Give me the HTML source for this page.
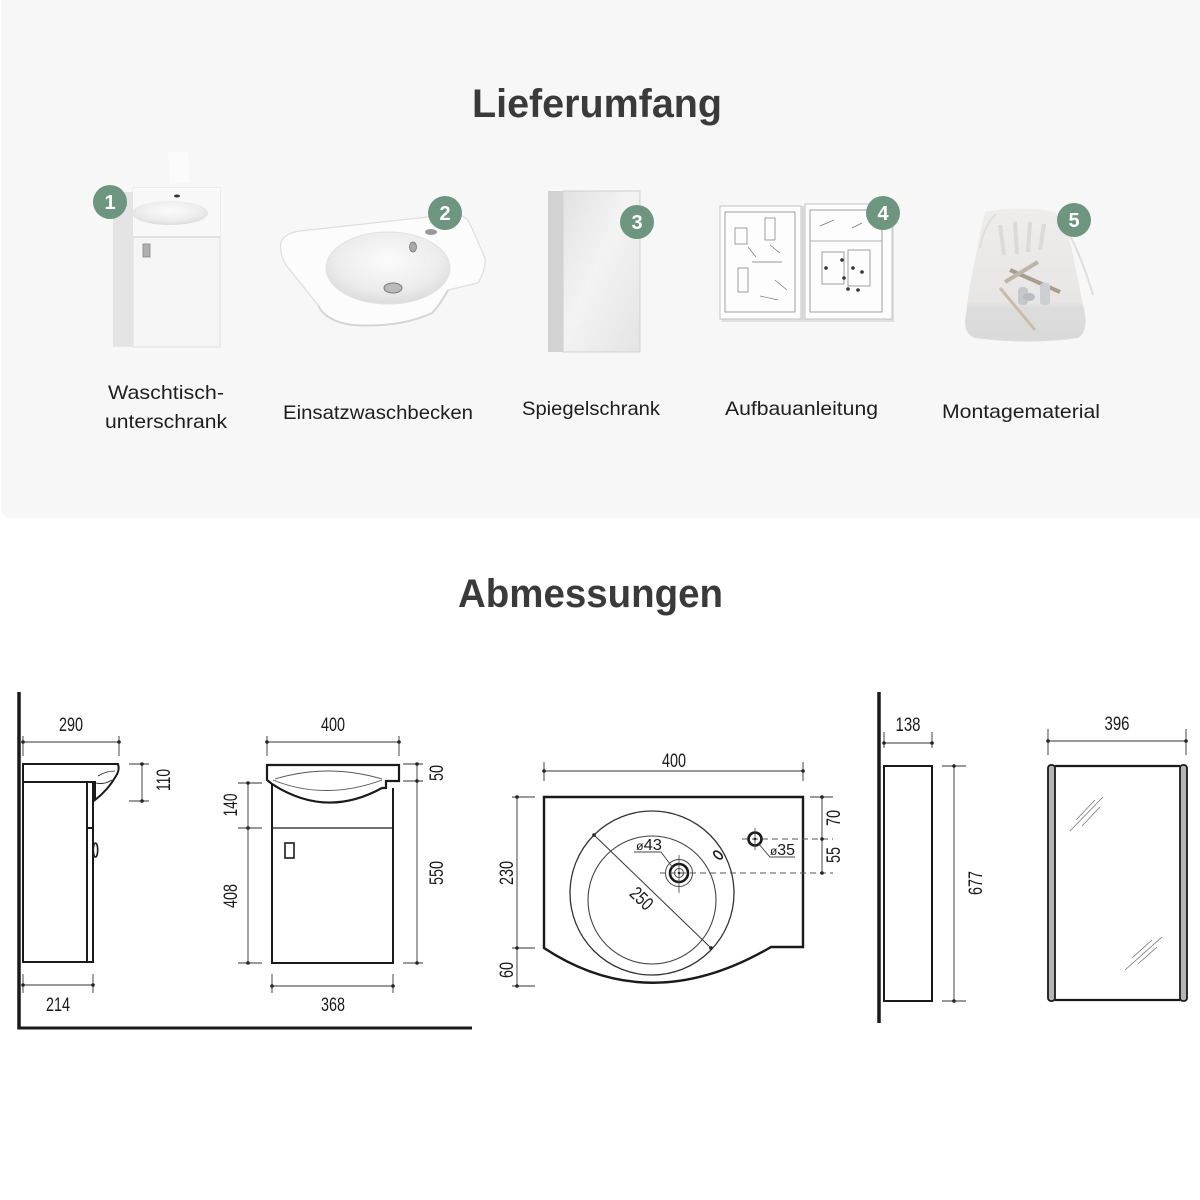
<!DOCTYPE html>
<html><head><meta charset="utf-8"><style>
html,body{margin:0;padding:0;background:#fff;}
svg{display:block;}
</style></head><body>
<svg width="1200" height="1200" viewBox="0 0 1200 1200" xmlns="http://www.w3.org/2000/svg">
<defs>
<linearGradient id="mirr" x1="0" y1="0" x2="1" y2="1">
<stop offset="0" stop-color="#e2e2e2"/><stop offset="0.45" stop-color="#f3f3f3"/><stop offset="1" stop-color="#e4e4e4"/></linearGradient>
<radialGradient id="bowl" cx="0.5" cy="0.4" r="0.6">
<stop offset="0" stop-color="#fbfbfb"/><stop offset="0.7" stop-color="#ececec"/><stop offset="1" stop-color="#dcdcdc"/></radialGradient>
<linearGradient id="bag" x1="0" y1="0" x2="0" y2="1">
<stop offset="0" stop-color="#eeedeb"/><stop offset="0.7" stop-color="#e8e6e4"/><stop offset="0.75" stop-color="#dcdcdc"/><stop offset="1" stop-color="#dadada"/></linearGradient>
</defs>
<rect x="0" y="0" width="1200" height="1200" fill="#fff"/>
<rect x="1" y="-20" width="1215" height="538" rx="10" fill="#f7f7f7"/>

<g font-family="Liberation Sans, sans-serif" font-weight="bold" fill="#3a3a3a" font-size="40">
<text x="472" y="117" textLength="250" lengthAdjust="spacingAndGlyphs">Lieferumfang</text>
<text x="458" y="607" textLength="265" lengthAdjust="spacingAndGlyphs">Abmessungen</text>
</g>

<!-- Product 1: cabinet -->
<g>
<path d="M168,152 L188,152 L190,182 L170,184 Z" fill="#fbfbfb"/>
<rect x="113" y="192" width="20" height="155" fill="#e4e4e4"/>
<rect x="133" y="188" width="87" height="159" fill="#f5f5f5" stroke="#e0e0e0" stroke-width="1"/>
<path d="M133,188 L220,188 L220,237 L133,237 Z" fill="#f8f8f8"/>
<ellipse cx="170" cy="213" rx="38" ry="12" fill="url(#bowl)"/>
<ellipse cx="177" cy="196" rx="3" ry="1.5" fill="#333"/>
<line x1="133" y1="237" x2="220" y2="237" stroke="#d5d5d5" stroke-width="1.2"/>
<rect x="143" y="244" width="7" height="13" fill="#b0b0b0" stroke="#888" stroke-width="0.8"/>
</g>
<!-- Product 2: basin -->
<g>
<path d="M281,242 Q285,233 300,231 L455,214 Q466,215 470,224 L485,258 Q486,270 478,283 L448,290 Q440,305 432,313 Q400,328 352,325 Q325,321 318,305 L286,265 Q279,253 281,242 Z" fill="#fcfcfc" stroke="#dedede" stroke-width="1.2"/>
<path d="M318,305 Q325,321 352,325 Q400,328 432,313 Q440,305 448,290" fill="none" stroke="#d5d5d5" stroke-width="2"/>
<ellipse cx="388" cy="268" rx="62" ry="36" fill="url(#bowl)" stroke="#e2e2e2" stroke-width="1"/>
<ellipse cx="393" cy="288" rx="9" ry="5" fill="#bbb" stroke="#777" stroke-width="1"/>
<ellipse cx="413" cy="247" rx="3.5" ry="5" fill="#aaa" stroke="#777" stroke-width="0.8"/>
<ellipse cx="431" cy="232" rx="6" ry="3" fill="#999"/>
</g>
<!-- Product 3: mirror cabinet -->
<g>
<rect x="548" y="191" width="15" height="161" fill="#d3d3d3"/>
<rect x="563" y="191" width="77" height="161" fill="url(#mirr)" stroke="#d0d0d0" stroke-width="1"/>
</g>
<!-- Product 4: book -->
<g>
<rect x="722" y="209" width="172" height="113" fill="#c8c8c8" opacity="0.5"/>
<rect x="720" y="206" width="81" height="113" fill="#fdfdfd" stroke="#c4c4c4" stroke-width="1"/>
<rect x="805" y="204" width="87" height="115" fill="#fdfdfd" stroke="#c4c4c4" stroke-width="1"/>
<rect x="801" y="206" width="4" height="113" fill="#d8d8d8"/>
<rect x="725" y="212" width="70" height="100" fill="none" stroke="#888" stroke-width="0.8"/>
<rect x="810" y="210" width="72" height="102" fill="none" stroke="#888" stroke-width="0.8"/>
<line x1="810" y1="241" x2="882" y2="241" stroke="#999" stroke-width="0.7"/>
<g stroke="#777" stroke-width="0.7" fill="none">
<rect x="735" y="228" width="12" height="16"/><rect x="765" y="218" width="10" height="22"/>
<rect x="738" y="268" width="10" height="24"/><path d="M748,247 l8,10 M770,245 l10,8 M752,262 h30 M775,280 l12,10 M760,296 l18,4"/>
<rect x="822" y="252" width="22" height="32"/><rect x="848" y="250" width="22" height="36"/>
<path d="M820,226 l14,-6 M852,228 l10,-5"/>
</g>
<g fill="#333"><circle cx="826" cy="268" r="1.8"/><circle cx="842" cy="260" r="1.8"/><circle cx="853" cy="268" r="1.8"/><circle cx="862" cy="272" r="1.8"/><circle cx="844" cy="278" r="1.8"/><circle cx="848" cy="289" r="1.8"/><circle cx="858" cy="290" r="1.8"/></g>
</g>
<!-- Product 5: bag -->
<g>
<path d="M985,212 Q1020,205 1055,212 Q1068,230 1072,250 Q1080,290 1083,305 Q1090,330 1078,338 Q1030,345 975,338 Q962,333 966,315 Q970,280 976,255 Q980,230 985,212 Z" fill="url(#bag)"/>
<path d="M980,248 Q984,225 996,214 M1060,218 Q1080,250 1093,295" stroke="#dedede" stroke-width="2" fill="none"/>
<path d="M1000,225 l4,30 M1015,222 l2,32 M1030,222 l-2,30 M1044,224 l-4,26" stroke="#d6d6d6" stroke-width="4" fill="none" opacity="0.8"/>
<line x1="1010" y1="270" x2="1060" y2="292" stroke="#a79e8e" stroke-width="4"/>
<line x1="1005" y1="282" x2="1038" y2="262" stroke="#bdb6a8" stroke-width="4"/>
<line x1="1000" y1="288" x2="1035" y2="330" stroke="#c8bda8" stroke-width="3"/>
<rect x="1018" y="287" width="10" height="18" rx="4" fill="#c4c8cc"/>
<ellipse cx="1029" cy="297" rx="6" ry="4" fill="#b8bcc0"/>
<rect x="1040" y="283" width="10" height="22" rx="3" fill="#cdd0d3"/>
</g>

<!-- badges -->
<g fill="#6d957f">
<circle cx="110" cy="202" r="17"/><circle cx="445" cy="213" r="17"/><circle cx="637" cy="222" r="17"/><circle cx="883" cy="213" r="17"/><circle cx="1074" cy="220" r="17"/>
</g>
<g font-family="Liberation Sans, sans-serif" font-weight="bold" fill="#fff" font-size="20" text-anchor="middle">
<text x="110" y="209">1</text><text x="445" y="220">2</text><text x="637" y="229">3</text><text x="883" y="220">4</text><text x="1074" y="227">5</text>
</g>

<!-- labels -->
<g font-family="Liberation Sans, sans-serif" fill="#1e1e1e" font-size="19.5">
<text x="108" y="399" textLength="116" lengthAdjust="spacingAndGlyphs">Waschtisch-</text>
<text x="105" y="428" textLength="122" lengthAdjust="spacingAndGlyphs">unterschrank</text>
<text x="283" y="419" textLength="190" lengthAdjust="spacingAndGlyphs">Einsatzwaschbecken</text>
<text x="522" y="415" textLength="138" lengthAdjust="spacingAndGlyphs">Spiegelschrank</text>
<text x="725" y="415" textLength="153" lengthAdjust="spacingAndGlyphs">Aufbauanleitung</text>
<text x="942" y="418" textLength="158" lengthAdjust="spacingAndGlyphs">Montagematerial</text>
</g>

<!-- ================= DRAWINGS ================= -->
<g fill="none" stroke="#1a1a1a" stroke-linecap="butt">
<line x1="19" y1="692" x2="19" y2="1029" stroke-width="3.5"/>
<line x1="17.5" y1="1028" x2="472" y2="1028" stroke-width="3"/>
<path d="M23,764 H118 Q120,770 116,776 Q108,790 95,800 V782 H23 Z" stroke-width="2"/>
<path d="M98,776 Q106,771 115,771" stroke-width="0.8"/>
<path d="M96,783 Q104,785 112,780" stroke-width="0.8"/>
<rect x="23" y="782" width="64" height="180" stroke-width="2"/>
<path d="M87,782 H93 V962 H87" stroke-width="2"/>
<line x1="87" y1="828" x2="93" y2="828" stroke-width="2"/>
<ellipse cx="95.5" cy="850" rx="2.2" ry="7" stroke-width="1.6"/>
<path d="M267,765 H399 V781 H386 V788 H382 Q326,819 272,784 L267,780 Z" stroke-width="2.2"/>
<path d="M275,779 Q328,763 382,779" stroke-width="0.9" stroke="#555"/>
<path d="M273,780 Q325,801 382,780" stroke-width="0.9" stroke="#555"/>
<path d="M272,784 V963 H393 V788" stroke-width="2"/>
<line x1="272" y1="828" x2="393" y2="828" stroke-width="1.3"/>
<rect x="285" y="843" width="9" height="15" stroke-width="1.6"/>
<path d="M544,797 H803 V947 H771 Q650,1018 544,948 Z" stroke-width="2.4"/>
<circle cx="652" cy="893" r="82" stroke-width="1.3" stroke="#333"/>
<circle cx="652" cy="900" r="64" stroke-width="1.1" stroke="#444"/>
<circle cx="679" cy="873" r="13.5" stroke-width="1" stroke="#444"/>
<circle cx="679" cy="873" r="9" stroke-width="2.6"/>
<circle cx="679" cy="873" r="4.5" stroke-width="1" stroke="#444"/>
<line x1="679" y1="855" x2="679" y2="893" stroke-width="0.8" stroke="#444"/>
<line x1="660" y1="873" x2="833" y2="873" stroke-width="0.9" stroke="#555" stroke-dasharray="6,4"/>
<line x1="742" y1="839" x2="833" y2="839" stroke-width="0.9" stroke="#555" stroke-dasharray="6,4"/>
<circle cx="755" cy="839" r="6.5" stroke-width="2.6"/>
<line x1="755" y1="828" x2="755" y2="850" stroke-width="0.8" stroke="#444"/>
<ellipse cx="718" cy="855" rx="5" ry="2.8" transform="rotate(40 718 855)" stroke-width="1.6"/>
<line x1="594" y1="835" x2="711" y2="948" stroke-width="1" stroke="#333"/>
<path d="M673,868 L661,852 H634" stroke-width="0.9" stroke="#444"/>
<path d="M758,843 L770,857 H795" stroke-width="0.9" stroke="#444"/>
<line x1="879" y1="692" x2="879" y2="1023" stroke-width="3.5"/>
<rect x="884" y="766" width="48" height="235" stroke-width="2"/>
<line x1="1055" y1="766" x2="1180" y2="766" stroke-width="2.2"/>
<line x1="1055" y1="1000" x2="1180" y2="1000" stroke-width="2.2"/>
<rect x="1048" y="765" width="7" height="236" rx="3" fill="#b5b5b5" stroke-width="1.8"/>
<rect x="1180" y="765" width="7" height="236" rx="3" fill="#b5b5b5" stroke-width="1.8"/>
<g stroke="#777" stroke-width="0.8">
<line x1="1070" y1="831" x2="1103" y2="797"/><line x1="1076" y1="820" x2="1095" y2="800"/><line x1="1082" y1="826" x2="1100" y2="807"/>
<line x1="1125" y1="970" x2="1162" y2="937"/><line x1="1132" y1="958" x2="1152" y2="940"/><line x1="1138" y1="964" x2="1157" y2="947"/>
</g>
</g>

<g stroke="#333" stroke-width="0.9" fill="none">
<path d="M23,742 H119 M23,736 V756 M119,736 V756"/>
<path d="M142,764 V801 M129,764 H149 M129,801 H149"/>
<path d="M23,985 H93 M23,974 V993 M93,974 V993"/>
<path d="M267,742 H399 M267,736 V756 M399,736 V756"/>
<path d="M248,783 V963 M238,783 H262 M238,828 H262 M238,963 H262"/>
<path d="M417,764 V963 M403,764 H423 M403,781 H423 M403,963 H423"/>
<path d="M272,986 H393 M272,974 V993 M393,974 V993"/>
<path d="M544,771 H803 M544,762 V781 M803,762 V781"/>
<path d="M517,797 V986 M512,797 H535 M512,948 H535 M512,986 H535"/>
<path d="M822,797 V873 M810,797 H833"/>
<path d="M884,743 H932 M884,732 V748 M932,732 V748"/>
<path d="M954,766 V1001 M942,766 H966 M942,1001 H966"/>
<path d="M1048,741 H1186 M1048,729 V755 M1186,729 V755"/>
</g>
<g fill="#222">
<circle cx="23" cy="742" r="1.8"/><circle cx="119" cy="742" r="1.8"/>
<circle cx="142" cy="764" r="1.8"/><circle cx="142" cy="801" r="1.8"/>
<circle cx="23" cy="985" r="1.8"/><circle cx="93" cy="985" r="1.8"/>
<circle cx="267" cy="742" r="1.8"/><circle cx="399" cy="742" r="1.8"/>
<circle cx="248" cy="783" r="1.8"/><circle cx="248" cy="828" r="1.8"/><circle cx="248" cy="963" r="1.8"/>
<circle cx="417" cy="764" r="1.8"/><circle cx="417" cy="781" r="1.8"/><circle cx="417" cy="963" r="1.8"/>
<circle cx="272" cy="986" r="1.8"/><circle cx="393" cy="986" r="1.8"/>
<circle cx="544" cy="771" r="1.8"/><circle cx="803" cy="771" r="1.8"/>
<circle cx="517" cy="797" r="1.8"/><circle cx="517" cy="948" r="1.8"/><circle cx="517" cy="986" r="1.8"/>
<circle cx="822" cy="797" r="1.8"/><circle cx="822" cy="839" r="1.8"/><circle cx="822" cy="873" r="1.8"/>
<circle cx="594" cy="835" r="1.8"/><circle cx="711" cy="948" r="1.8"/>
<circle cx="755" cy="839" r="1.3"/><circle cx="679" cy="873" r="1.3"/>
<circle cx="884" cy="743" r="1.8"/><circle cx="932" cy="743" r="1.8"/>
<circle cx="954" cy="766" r="1.8"/><circle cx="954" cy="1001" r="1.8"/>
<circle cx="1048" cy="741" r="1.8"/><circle cx="1186" cy="741" r="1.8"/>
</g>

<g font-family="Liberation Sans, sans-serif" fill="#1a1a1a" font-size="19" text-anchor="middle">
<text x="71" y="731" textLength="24" lengthAdjust="spacingAndGlyphs">290</text>
<text x="58" y="1011" textLength="24" lengthAdjust="spacingAndGlyphs">214</text>
<text x="333" y="731" textLength="24" lengthAdjust="spacingAndGlyphs">400</text>
<text x="333" y="1011" textLength="24" lengthAdjust="spacingAndGlyphs">368</text>
<text x="674" y="767" textLength="24" lengthAdjust="spacingAndGlyphs">400</text>
<text x="908" y="731" textLength="25" lengthAdjust="spacingAndGlyphs">138</text>
<text x="1117" y="730" textLength="25" lengthAdjust="spacingAndGlyphs">396</text>
<text transform="translate(170,780) rotate(-90)" textLength="22" lengthAdjust="spacingAndGlyphs">110</text>
<text transform="translate(237,805) rotate(-90)" textLength="23" lengthAdjust="spacingAndGlyphs">140</text>
<text transform="translate(237,896) rotate(-90)" textLength="24" lengthAdjust="spacingAndGlyphs">408</text>
<text transform="translate(443,773) rotate(-90)" textLength="16" lengthAdjust="spacingAndGlyphs">50</text>
<text transform="translate(443,873) rotate(-90)" textLength="24" lengthAdjust="spacingAndGlyphs">550</text>
<text transform="translate(513,873) rotate(-90)" textLength="24" lengthAdjust="spacingAndGlyphs">230</text>
<text transform="translate(513,970) rotate(-90)" textLength="16" lengthAdjust="spacingAndGlyphs">60</text>
<text transform="translate(840,818) rotate(-90)" textLength="16" lengthAdjust="spacingAndGlyphs">70</text>
<text transform="translate(840,855) rotate(-90)" textLength="16" lengthAdjust="spacingAndGlyphs">55</text>
<text transform="translate(982,883) rotate(-90)" textLength="24" lengthAdjust="spacingAndGlyphs">677</text>
<text transform="translate(642,898) rotate(44)" y="7" textLength="24" lengthAdjust="spacingAndGlyphs">250</text>
</g>
<g font-family="Liberation Sans, sans-serif" fill="#1a1a1a" font-size="16">
<text x="636" y="850" textLength="26" lengthAdjust="spacingAndGlyphs"><tspan font-size="12">ø</tspan>43</text>
<text x="770" y="855" textLength="25" lengthAdjust="spacingAndGlyphs"><tspan font-size="12">ø</tspan>35</text>
</g>
</svg>
</body></html>
